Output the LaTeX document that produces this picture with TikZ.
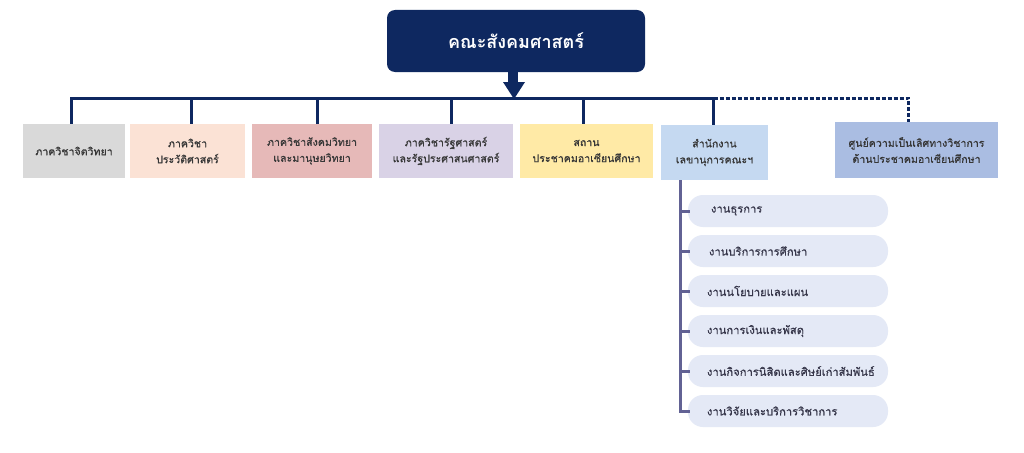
\documentclass[tikz,border=0pt]{standalone}
\usepackage{fontspec}
\newfontfamily\thai[Script=Thai]{Loma}
\newfontfamily\thaib[Script=Thai,FakeBold=0.6]{Loma}
\usetikzlibrary{arrows.meta}
\definecolor{navy}{RGB}{14,40,96}
\definecolor{cGray}{RGB}{217,217,217}
\definecolor{cPeach}{RGB}{251,226,213}
\definecolor{cPink}{RGB}{230,185,184}
\definecolor{cLav}{RGB}{217,210,230}
\definecolor{cYel}{RGB}{255,234,166}
\definecolor{cLBlue}{RGB}{197,217,241}
\definecolor{cBlue}{RGB}{170,189,226}
\definecolor{cPill}{RGB}{228,233,246}
\definecolor{cSub}{RGB}{98,98,148}
\definecolor{txt}{RGB}{55,55,55}
\definecolor{ptxt}{RGB}{55,55,75}
\begin{document}
\begin{tikzpicture}[x=1pt,y=-1pt,
  title/.style={fill=navy,rounded corners=8pt,minimum width=258pt,minimum height=62pt,
    text=white,font=\thai\fontsize{18}{20}\selectfont\bfseries,inner sep=0pt},
  dept/.style={minimum height=54pt,inner sep=0pt,align=center,text=txt,
    font=\thaib\fontsize{10.6}{16}\selectfont},
  pill/.style={fill=cPill,rounded corners=15pt,minimum height=32pt,text width=162pt,
    inner xsep=19pt,inner ysep=0pt,align=left,text=ptxt,
    font=\thaib\fontsize{11.2}{13}\selectfont},
  bus/.style={navy,line width=3pt},
  dotbus/.style={navy,line width=3pt,dash pattern=on 4pt off 2pt},
  subline/.style={cSub,line width=3pt}]
\useasboundingbox[fill=white] (0,0) rectangle (1024,452);

\node[title] (fac) at (516,41) {คณะสังคมศาสตร์};

\node[dept,fill=cGray,minimum width=102pt] (d1) at (74,151) {ภาควิชาจิตวิทยา};
\node[dept,fill=cPeach,minimum width=115pt] (d2) at (187.5,151) {ภาควิชา\\ประวัติศาสตร์};
\node[dept,fill=cPink,minimum width=120pt] (d3) at (312,151) {ภาควิชาสังคมวิทยา\\และมานุษยวิทยา};
\node[dept,fill=cLav,minimum width=134pt] (d4) at (446,151) {ภาควิชารัฐศาสตร์\\และรัฐประศาสนศาสตร์};
\node[dept,fill=cYel,minimum width=133pt] (d5) at (586.5,151) {สถาน\\ประชาคมอาเซียนศึกษา};
\node[dept,fill=cLBlue,minimum width=107pt,minimum height=55pt] (d6) at (714.5,152.5) {สำนักงาน\\เลขานุการคณะฯ};
\node[dept,fill=cBlue,minimum width=163pt,minimum height=56pt] (d7) at (916.5,150) {ศูนย์ความเป็นเลิศทางวิชาการ\\ด้านประชาคมอาเซียนศึกษา};

\coordinate (busy) at (0,98);
\coordinate (arrowend) at (514,99);

\draw[bus] ([xshift=-3pt]d1.north) |- ([xshift=-1pt]d6.north |- busy) -- ([xshift=-1pt]d6.north);
\draw[bus] ([xshift=4pt]d2.north) -- ([xshift=4pt]d2.north |- busy);
\draw[bus] ([xshift=5pt]d3.north) -- ([xshift=5pt]d3.north |- busy);
\draw[bus] ([xshift=5pt]d4.north) -- ([xshift=5pt]d4.north |- busy);
\draw[bus] ([xshift=-3pt]d5.north) -- ([xshift=-3pt]d5.north |- busy);
\draw[dotbus] ([xshift=-1pt]d6.north |- busy) -| ([xshift=-8pt]d7.north);
\fill[navy] (fac.south -| 508,0) rectangle (518,83);
\fill[navy] (503,82) -- (525,82) -- (arrowend) -- cycle;

\node[pill] (p1) at (788,211) {\hspace*{4pt}งานธุรการ};
\node[pill] (p2) at (788,251) {\hspace*{2pt}งานบริการการศึกษา};
\node[pill] (p3) at (788,291) {งานนโยบายและแผน};
\node[pill] (p4) at (788,331) {งานการเงินและพัสดุ};
\node[pill] (p5) at (788,371) {งานกิจการนิสิตและศิษย์เก่าสัมพันธ์};
\node[pill] (p6) at (788,411) {งานวิจัยและบริการวิชาการ};

\coordinate (subx) at ([xshift=-34pt]d6.south);
\draw[subline] (subx) |- ([xshift=2pt]p6.west);
\foreach \p in {p1,p2,p3,p4,p5} \draw[subline] (\p.west -| subx) -- ([xshift=2pt]\p.west);
\end{tikzpicture}
\end{document}
